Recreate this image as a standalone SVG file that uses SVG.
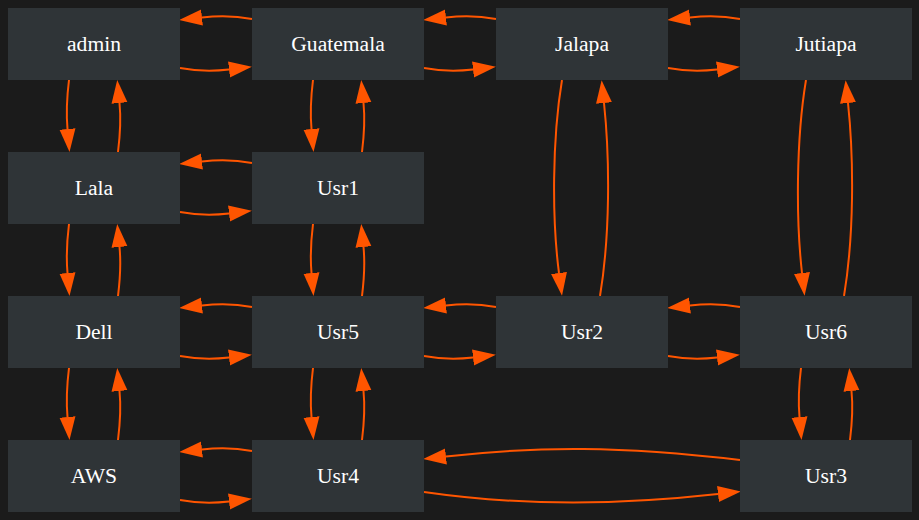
<svg xmlns="http://www.w3.org/2000/svg" width="919" height="520" viewBox="0 0 919 520">
<defs>
<style>
.n rect{fill:#2f3437}
.n text{fill:#ffffff;font-family:"Liberation Serif","Times New Roman",serif;font-size:21.6px;text-anchor:middle}
.e path{fill:none;stroke:#ff5500;stroke-width:2;marker-end:url(#ah)}
</style>
<marker id="ah" markerUnits="userSpaceOnUse" markerWidth="24" markerHeight="18" viewBox="0 0 24 18" refX="0" refY="9" orient="auto">
<path d="M0,1 L23,9 L0,17 z" fill="#ff5500"/>
</marker>
</defs>
<rect width="919" height="520" fill="#1b1b1b"/>
<g id="edges" class="e">
<!-- row 0 horizontal -->
<path d="M252,19 C236,16 216,16 202,17.5"/>
<path d="M180,68 C196,71 216,71 229,69.5"/>
<path d="M496,19 C480,16 460,16 446,17.5"/>
<path d="M424,68 C440,71 460,71 473,69.5"/>
<path d="M740,19 C724,16 704,16 690,17.5"/>
<path d="M668,68 C684,71 704,71 717,69.5"/>
<!-- row 1 -->
<path d="M252,163 C236,160 216,160 202,161.5"/>
<path d="M180,212 C196,215 216,215 229,213.5"/>
<!-- row 2 -->
<path d="M252,307 C236,304 216,304 202,305.5"/>
<path d="M180,356 C196,359 216,359 229,357.5"/>
<path d="M496,307 C480,304 460,304 446,305.5"/>
<path d="M424,356 C440,359 460,359 473,357.5"/>
<path d="M740,307 C724,304 704,304 690,305.5"/>
<path d="M668,356 C684,359 704,359 717,357.5"/>
<!-- row 3 -->
<path d="M252,451 C236,448 216,448 202,449.5"/>
<path d="M180,500 C196,503 216,503 229,501.5"/>
<path d="M740,460 C620,446 540,446 446,456.5"/>
<path d="M424,492 C520,506 620,505 718,494"/>
<!-- col 0 vertical -->
<path d="M69,80 C67,96 66,112 67.5,129"/>
<path d="M118,152 C120,136 121,118 119.5,103"/>
<path d="M69,224 C67,240 66,256 67.5,273"/>
<path d="M118,296 C120,280 121,262 119.5,247"/>
<path d="M69,368 C67,384 66,400 67.5,417"/>
<path d="M118,440 C120,424 121,406 119.5,391"/>
<!-- col 1 vertical -->
<path d="M313,80 C311,96 310,112 311.5,129"/>
<path d="M362,152 C364,136 365,118 363.5,103"/>
<path d="M313,224 C311,240 310,256 311.5,273"/>
<path d="M362,296 C364,280 365,262 363.5,247"/>
<path d="M313,368 C311,384 310,400 311.5,417"/>
<path d="M362,440 C364,424 365,406 363.5,391"/>
<!-- long verticals -->
<path d="M562,80 C552,140 552,220 559,273"/>
<path d="M600,296 C610,236 610,160 604,103"/>
<path d="M806,80 C796,140 796,220 802,273"/>
<path d="M844,296 C854,236 854,160 848,103"/>
<!-- Usr6 - Usr3 -->
<path d="M801,368 C799,384 798,400 799.5,417"/>
<path d="M850,440 C852,424 853,406 851.5,391"/>
</g>
<g id="admin" class="n"><rect x="8" y="8" width="172" height="72"/><text x="94" y="51">admin</text></g>
<g id="Guatemala" class="n"><rect x="252" y="8" width="172" height="72"/><text x="338" y="51">Guatemala</text></g>
<g id="Jalapa" class="n"><rect x="496" y="8" width="172" height="72"/><text x="582" y="51">Jalapa</text></g>
<g id="Jutiapa" class="n"><rect x="740" y="8" width="172" height="72"/><text x="826" y="51">Jutiapa</text></g>
<g id="Lala" class="n"><rect x="8" y="152" width="172" height="72"/><text x="94" y="195">Lala</text></g>
<g id="Usr1" class="n"><rect x="252" y="152" width="172" height="72"/><text x="338" y="195">Usr1</text></g>
<g id="Dell" class="n"><rect x="8" y="296" width="172" height="72"/><text x="94" y="339">Dell</text></g>
<g id="Usr5" class="n"><rect x="252" y="296" width="172" height="72"/><text x="338" y="339">Usr5</text></g>
<g id="Usr2" class="n"><rect x="496" y="296" width="172" height="72"/><text x="582" y="339">Usr2</text></g>
<g id="Usr6" class="n"><rect x="740" y="296" width="172" height="72"/><text x="826" y="339">Usr6</text></g>
<g id="AWS" class="n"><rect x="8" y="440" width="172" height="72"/><text x="94" y="483">AWS</text></g>
<g id="Usr4" class="n"><rect x="252" y="440" width="172" height="72"/><text x="338" y="483">Usr4</text></g>
<g id="Usr3" class="n"><rect x="740" y="440" width="172" height="72"/><text x="826" y="483">Usr3</text></g>
</svg>
